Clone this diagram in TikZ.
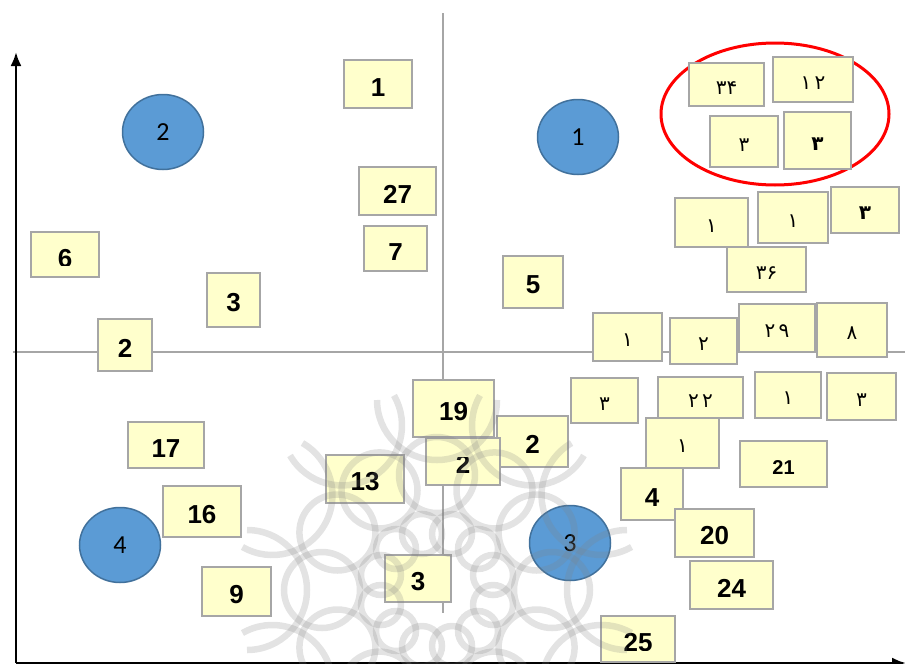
\documentclass[tikz,border=0pt]{standalone}
\usepackage{fontspec}
\setmainfont{Liberation Sans}
\newfontfamily\kreiszahl{Carlito}
\newfontfamily\farsi[Script=Arabic]{DejaVu Sans}
\usetikzlibrary{arrows.meta,shapes.geometric}
\definecolor{gelb}{HTML}{FFFFCC}
\definecolor{rahmen}{HTML}{A6A6A6}
\definecolor{blau}{HTML}{5B9BD5}
\definecolor{blaurand}{HTML}{41719C}
\definecolor{rot}{HTML}{FF0000}
\definecolor{hgrau}{HTML}{A6A6A6}
\tikzset{
  ziffer/.style={inner sep=0pt,font=\fontsize{26}{26}\selectfont\bfseries},
  kasten/.style 2 args={draw=rahmen,fill=gelb,line width=2pt,inner sep=0pt,
    minimum width=#1pt,minimum height=#2pt,text height=24pt,
    font=\fontsize{26}{26}\selectfont\bfseries},
  pkasten/.style 2 args={kasten={#1}{#2},text height=19pt,
    font=\farsi\fontsize{20}{20}\selectfont},
  kreis/.style={ellipse,draw=blaurand,fill=blau,line width=1.5pt,inner sep=0pt,
    minimum width=81pt,minimum height=75pt,font=\kreiszahl\fontsize{26}{26}\selectfont},
  ax/.style={-{Latex[length=14pt,width=11pt]},black,line width=2.5pt},
  hilf/.style={hgrau,line width=2pt},
  markierung/.style={rot,line width=3pt},
  wz/.style={gray,draw opacity=0.22,line width=6.5pt},
}
\begin{document}
\begin{tikzpicture}[x=1pt,y=-1pt]
  \useasboundingbox (0,0) rectangle (905,664);
  % Hilfslinien und Achsen
  \draw[hilf] (13,352)--(905,352);
  \draw[hilf] (443,13)--(443,613);
  \coordinate (O) at (16,663);
  \coordinate (Y) at (16,52);
  \coordinate (X) at (906,663);
  \draw[ax] (O)--(Y);
  \draw[ax] (O)--(X);
  % Cluster
  \node[kreis] (k1) at (578,137) {1};
  \node[kreis] (k2) at (163,132) {2};
  \node[kreis] (k3) at (570,543) {3};
  \node[kreis] (k4) at (120,545) {4};
  \draw[markierung] (775,114) ellipse [x radius=114pt,y radius=71pt];
  % linke Seite
  \node[kasten={68}{48}] (b1) at (378,84) {1};
  \node[kasten={77}{48}] (b27) at (397.5,191) {27};
  \node[kasten={63}{45}] (b7) at (395.5,248.5) {};
  \node[kasten={68}{45}] (b6) at (65,254.5) {};
  \node[kasten={53}{54}] (b3a) at (233.5,300) {3};
  \node[kasten={54}{52}] (b2a) at (125,345) {2};
  \node[kasten={60}{52}] (b5) at (533,282) {5};
  \node[kasten={81}{57}] (b19) at (453.5,408.5) {19};
  \node[kasten={71}{51}] (b2b) at (532.5,441.5) {2};
  \node[kasten={74}{47}] (b2c) at (463,461.5) {};
  \node[kasten={78}{48}] (b13) at (365,479) {13};
  \node[kasten={66}{47}] (b3b) at (418,578.5) {3};
  \node[kasten={76}{46}] (b17) at (166,445) {17};
  \node[kasten={78}{51}] (b16) at (202,511.5) {16};
  \node[kasten={69}{49}] (b9) at (236.5,591.5) {9};
  \node[kasten={62}{52}] (b4) at (652,494) {4};
  \node[kasten={79}{48}] (b20) at (714.5,533) {20};
  \node[kasten={83}{48}] (b24) at (731.5,585) {24};
  \node[kasten={87}{46},text height=20pt,font=\fontsize{20}{20}\selectfont\bfseries] (b21) at (783.5,464) {21};
  \node[kasten={74}{46}] (b25) at (638,639) {};
  % abgeschnittene Zahlen
  \foreach \k/\z in {b6/6,b7/7,b25/25}{
    \begin{scope}
      \clip ([yshift=13pt]\k.south west) rectangle (\k.north east);
      \node[ziffer,anchor=north] (t\k) at ([yshift=-18pt]\k.north) {\z};
    \end{scope}}
  \begin{scope}
    \clip ([yshift=-20pt]b2c.north west) rectangle (b2c.south east);
    \node[ziffer,anchor=south] (tb2c) at ([yshift=12pt]b2c.south) {2};
  \end{scope}
  % rechte Seite (persische Zahlen)
  \node[pkasten={75}{43}] (p34) at (726.5,84.5) {۳۴};
  \node[pkasten={80}{45}] (p12) at (813,79.5) {۱\,۲};
  \node[pkasten={68}{51}] (p3a) at (744,141.5) {۳};
  \node[pkasten={67}{57}] (p3b) at (817.5,140.5) {\bfseries ۳};
  \node[pkasten={73}{49}] (p1a) at (711.5,222.5) {۱};
  \node[pkasten={70}{51}] (p1b) at (793,217.5) {۱};
  \node[pkasten={68}{46}] (p3c) at (865,210) {\bfseries ۳};
  \node[pkasten={79}{45}] (p36) at (766.5,269.5) {۳۶};
  \node[pkasten={69}{48}] (p1c) at (627.5,337) {۱};
  \node[pkasten={67}{46}] (p2) at (703.5,341) {۲};
  \node[pkasten={76}{48}] (p29) at (777,328) {۲\,۹};
  \node[pkasten={70}{54}] (p8) at (852,330) {۸};
  \node[pkasten={67}{45}] (p3d) at (604.5,400.5) {۳};
  \node[pkasten={85}{41}] (p22) at (700.5,397.5) {۲\,۲};
  \node[pkasten={66}{46}] (p1d) at (788,395) {۱};
  \node[pkasten={69}{47}] (p3e) at (861.5,396.5) {۳};
  \node[pkasten={73}{50}] (p1e) at (682.5,443) {۱};
  % Wasserzeichen
  \coordinate (W) at (437,590);
  \foreach \a in {0,30,...,330}{
    \draw[wz] (W) ++(\a:190) ++(\a+90:60) arc[start angle=\a+90,end angle=\a+270,radius=60];
    \draw[wz] (W) ++(\a:115) circle (38pt);
    \draw[wz] (W) ++(\a+15:58) circle (20pt);}
\end{tikzpicture}
\end{document}
